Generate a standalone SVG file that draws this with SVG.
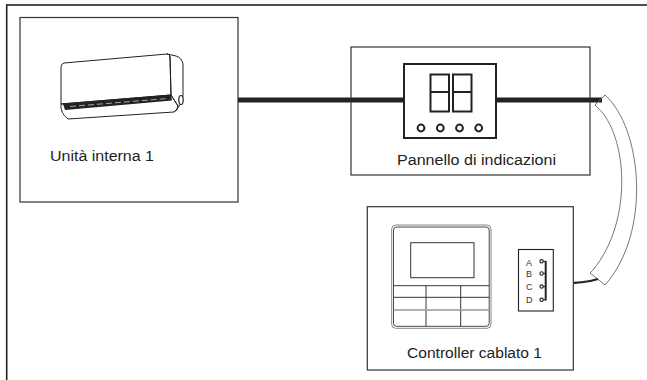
<svg xmlns="http://www.w3.org/2000/svg" width="647" height="380" viewBox="0 0 647 380">
  <style>
    .box { fill: #fff; stroke: #333; stroke-width: 1.2; }
    .label { font-family: "Liberation Sans", Arial, sans-serif; font-size: 14px; fill: #222; }
    .pin { font-family: "Liberation Sans", Arial, sans-serif; font-size: 9px; fill: #333; }
    .ink { fill: none; stroke: #222; }
    .cable { fill: none; stroke: #222; stroke-width: 5; }
    .conduit { fill: none; stroke: #666; stroke-width: 0.9; }
  </style>

  <rect width="647" height="380" fill="#fff"/>

  <!-- outer frame, open to the right and bottom -->
  <rect x="6.7" y="5" width="700" height="400" fill="none" stroke="#222" stroke-width="1.6"/>

  <!-- connectors -->
  <g id="connectors">
    <line class="cable" x1="182" y1="100" x2="404" y2="100"/>
    <line class="cable" x1="496" y1="100" x2="602" y2="100"/>
    <!-- flexible conduit -->
    <path class="conduit" d="M605,95 C642,128 652,232 605,285"/>
    <path class="conduit" d="M598,108 C627,135 634,220 593,270"/>
    <path class="conduit" d="M605,95 L595,105 L598,108"/>
    <path class="conduit" d="M593,270 L590,273 L605,285"/>
    <!-- lead from terminal block -->
    <path class="ink" stroke-width="2" d="M546,283 C565,284 585,283 598,279"/>
  </g>

  <!-- indoor unit -->
  <g id="indoor-unit">
    <rect class="box" x="20" y="17.5" width="218" height="184.5"/>
    <!-- lower flap -->
    <path class="ink" fill="#fff" stroke-width="1" d="M61,104 Q60,113 68,119 L174,112 Q178,110 178,106 L171,95 Z"/>
    <!-- front panel -->
    <path class="ink" fill="#fff" stroke-width="1" d="M64,63 L167,54 Q170,54 170,57 L171,95 L61,104 L61,67 Q61,64 64,63 Z"/>
    <!-- side cap -->
    <path class="ink" fill="#fff" stroke-width="1" d="M167,54 L176,56 Q182,58 183,64 L183,96 Q182,104 177,109 L174,112 Q178,110 178,106 L171,95 L170,57 Q170,54 167,54 Z"/>
    <!-- air outlet -->
    <path fill="#222" d="M63,104 L171,95 L172,100.5 L65,110 Z"/>
    <line x1="70" y1="106.5" x2="168" y2="98.5" stroke="#fff" stroke-width="0.6" stroke-dasharray="6 3"/>
    <!-- pipe outlet -->
    <ellipse cx="181" cy="100" rx="2.2" ry="4.5" fill="#fff" stroke="#222" stroke-width="1.2"/>
    <text class="label" x="50" y="161" textLength="104" lengthAdjust="spacingAndGlyphs">Unità interna 1</text>
  </g>

  <!-- indicator panel -->
  <g id="indicator-panel">
    <rect class="box" x="351" y="47" width="239" height="128"/>
    <line class="cable" x1="351" y1="100" x2="404" y2="100"/>
    <line class="cable" x1="496" y1="100" x2="590" y2="100"/>
    <rect x="404" y="64" width="92" height="74" fill="#fff" stroke="#222" stroke-width="2"/>
    <g class="ink" stroke-width="2">
      <rect x="430.5" y="74.5" width="18.5" height="37"/>
      <line x1="430.5" y1="92" x2="449" y2="92"/>
      <rect x="453" y="74.5" width="18.5" height="37"/>
      <line x1="453" y1="92" x2="471.5" y2="92"/>
      <circle cx="421" cy="128" r="3.4"/>
      <circle cx="440.3" cy="128" r="3.4"/>
      <circle cx="459.5" cy="128" r="3.4"/>
      <circle cx="478.7" cy="128" r="3.4"/>
    </g>
    <text class="label" x="397" y="165" textLength="159" lengthAdjust="spacingAndGlyphs">Pannello di indicazioni</text>
  </g>

  <!-- wired controller -->
  <g id="wired-controller">
    <rect class="box" x="367.3" y="206.7" width="206" height="163.3"/>
    <!-- controller body -->
    <rect x="391.7" y="225" width="99.3" height="103.3" rx="4" fill="#fff" stroke="#888" stroke-width="1"/>
    <rect x="393.5" y="227" width="95.7" height="99.3" rx="3" fill="none" stroke="#333" stroke-width="0.9"/>
    <rect x="410.7" y="242.7" width="63.3" height="35" fill="none" stroke="#333" stroke-width="1"/>
    <g stroke="#222" stroke-width="0.9">
      <line x1="393.5" y1="285.7" x2="489.2" y2="285.7"/>
      <line x1="393.5" y1="297.3" x2="489.2" y2="297.3"/>
      <line x1="426" y1="285.7" x2="426" y2="326.3"/>
      <line x1="460.7" y1="285.7" x2="460.7" y2="326.3"/>
    </g>
    <line x1="393.5" y1="310" x2="489.2" y2="310" stroke="#999" stroke-width="1.3"/>
    <!-- terminal block -->
    <rect x="518.5" y="249.5" width="34.8" height="61.5" fill="#fff" stroke="#222" stroke-width="1.1"/>
    <text class="pin" x="526" y="265.5">A</text>
    <text class="pin" x="526" y="277">B</text>
    <text class="pin" x="526" y="290">C</text>
    <text class="pin" x="526" y="302.5">D</text>
    <line x1="545.7" y1="261" x2="545.7" y2="300.5" stroke="#222" stroke-width="2"/>
    <g fill="#fff" stroke="#222" stroke-width="1.1">
      <circle cx="541.6" cy="261.3" r="1.7"/>
      <circle cx="541.6" cy="273.5" r="1.7"/>
      <circle cx="541.6" cy="286.6" r="1.7"/>
      <circle cx="541.6" cy="299.8" r="1.7"/>
    </g>
    <g stroke="#222" stroke-width="1.1">
      <line x1="543.3" y1="261.3" x2="545.7" y2="261.3"/>
      <line x1="543.3" y1="273.5" x2="545.7" y2="273.5"/>
      <line x1="543.3" y1="286.6" x2="545.7" y2="286.6"/>
      <line x1="543.3" y1="299.8" x2="545.7" y2="299.8"/>
    </g>
    <text class="label" x="407" y="358" textLength="135" lengthAdjust="spacingAndGlyphs">Controller cablato 1</text>
  </g>
</svg>
